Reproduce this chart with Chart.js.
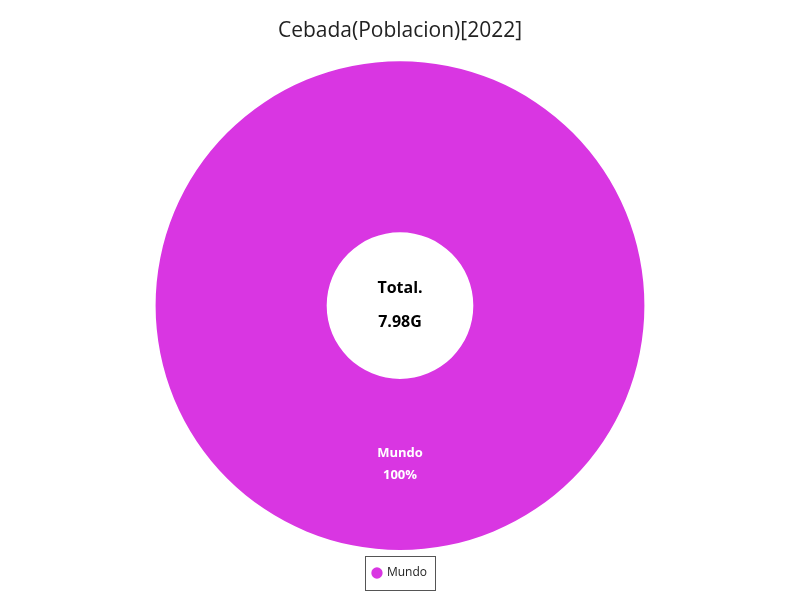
<!DOCTYPE html>
<html>
<head>
<meta charset="utf-8">
<script src="https://cdn.jsdelivr.net/npm/chart.js@4"></script>
<style>
  html, body { margin: 0; padding: 0; background: #fff; }
  #wrap { width: 800px; height: 600px; }
</style>
</head>
<body>
<div id="wrap"><canvas id="pieChart"></canvas></div>
<script>
const labels = ['Mundo'];
const values = [7980000000];
const colors = ['#d936e2'];
const chartTitle = 'Cebada(Poblacion)[2022]';
const centerTitle = 'Total.';

const FONT = "'Open Sans', 'Noto Sans', sans-serif";

function shortNum(v) {
    if (v >= 1e9) return (v / 1e9).toFixed(2) + 'G';
    if (v >= 1e6) return (v / 1e6).toFixed(2) + 'M';
    if (v >= 1e3) return (v / 1e3).toFixed(2) + 'K';
    return String(v);
}

// center text + slice labels
const labelPlugin = {
    id: 'labelPlugin',
    afterDatasetsDraw(chart) {
        const ctx = chart.ctx;
        const meta = chart.getDatasetMeta(0);
        const data = chart.data.datasets[0].data;
        const total = data.reduce((a, b) => a + b, 0);
        ctx.save();
        ctx.textAlign = 'center';
        ctx.textBaseline = 'middle';
        ctx.fillStyle = '#ffffff';
        ctx.font = 'bold 13px ' + FONT;
        meta.data.forEach((arc, i) => {
            const p = arc.tooltipPosition();
            const pct = Math.round(data[i] / total * 100) + '%';
            ctx.fillText(chart.data.labels[i], p.x, p.y - 11);
            ctx.fillText(pct, p.x, p.y + 11);
        });
        const arc0 = meta.data[0];
        ctx.fillStyle = '#000000';
        ctx.font = 'bold 16px ' + FONT;
        ctx.fillText(centerTitle, arc0.x, arc0.y - 17);
        ctx.fillText(shortNum(total), arc0.x, arc0.y + 17);
        ctx.restore();
    },
    afterDraw(chart) {
        // border around the legend
        const boxes = chart.legend && chart.legend.legendHitBoxes;
        if (!boxes || !boxes.length) return;
        const b = boxes[0];
        const ctx = chart.ctx;
        ctx.save();
        ctx.strokeStyle = '#555555';
        ctx.lineWidth = 1;
        ctx.strokeRect(Math.round(b.left - 8) + 0.5, Math.round(b.top - 11) + 0.5,
            Math.round(b.width + 16), Math.round(b.height + 22));
        ctx.restore();
    }
};

new Chart(document.getElementById('pieChart'), {
    type: 'doughnut',
    data: {
        labels: labels,
        datasets: [{
            data: values,
            backgroundColor: colors,
            borderWidth: 0,
            hoverOffset: 0
        }]
    },
    options: {
        responsive: true,
        maintainAspectRatio: false,
        animation: false,
        cutout: '30%',
        layout: { padding: { top: 0, bottom: 11 } },
        plugins: {
            title: {
                display: true,
                text: chartTitle,
                color: '#222222',
                font: { family: FONT, size: 21, weight: 'normal' },
                padding: { top: 18, bottom: 18 }
            },
            legend: {
                position: 'bottom',
                labels: {
                    usePointStyle: true,
                    pointStyle: 'circle',
                    boxWidth: 8,
                    boxHeight: 8,
                    color: '#222222',
                    font: { family: FONT, size: 12 },
                    padding: 17
                }
            },
            tooltip: { enabled: false }
        }
    },
    plugins: [labelPlugin]
});
</script>
</body>
</html>
